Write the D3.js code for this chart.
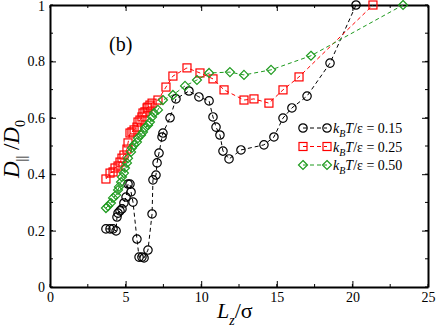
<!DOCTYPE html>
<html>
<head>
<meta charset="utf-8">
<script src="https://cdn.jsdelivr.net/npm/d3@7"></script>
<style>
  body { margin: 0; background: #fff; }
  svg text { font-family: "Liberation Serif", "DejaVu Serif", serif; }
</style>
</head>
<body>
<div id="chart"></div>
<script>
// D_par / D_0 versus L_z / sigma for three temperatures
const xTicks = [0, 5, 10, 15, 20, 25];
const yTicks = [0, 0.2, 0.4, 0.6, 0.8, 1];

const lzT015 = [3.70, 3.97, 4.17, 4.37, 4.43, 4.50, 4.63, 4.76, 4.89, 5.03, 5.16, 5.29, 5.36, 5.49, 5.75, 5.89, 6.08, 6.22, 6.48, 6.75, 6.81, 7.01, 7.08, 7.21, 7.41, 7.47, 7.94, 8.33, 9.19, 9.85, 10.52, 10.78, 10.98, 11.24, 11.44, 11.84, 12.63, 14.15, 14.81, 15.41, 16.0, 17.0, 18.52, 20.24];
const dT015 = [0.206, 0.206, 0.206, 0.199, 0.248, 0.262, 0.270, 0.277, 0.298, 0.319, 0.365, 0.365, 0.337, 0.301, 0.170, 0.106, 0.106, 0.103, 0.131, 0.259, 0.380, 0.397, 0.440, 0.475, 0.532, 0.546, 0.600, 0.667, 0.695, 0.674, 0.660, 0.603, 0.567, 0.539, 0.482, 0.454, 0.486, 0.504, 0.532, 0.599, 0.635, 0.677, 0.794, 1.0];

const lzT025 = [3.70, 3.97, 4.17, 4.30, 4.50, 4.63, 4.76, 4.89, 5.09, 5.16, 5.29, 5.42, 5.56, 5.75, 5.82, 5.95, 6.08, 6.15, 6.28, 6.42, 6.48, 6.61, 6.75, 7.14, 7.67, 8.13, 9.06, 9.92, 10.78, 11.51, 12.83, 13.49, 14.48, 15.41, 16.47, 21.36];
const dT025 = [0.383, 0.404, 0.408, 0.422, 0.429, 0.443, 0.457, 0.468, 0.489, 0.511, 0.546, 0.550, 0.557, 0.567, 0.585, 0.592, 0.603, 0.617, 0.621, 0.635, 0.638, 0.645, 0.652, 0.663, 0.709, 0.748, 0.777, 0.759, 0.738, 0.699, 0.663, 0.667, 0.652, 0.699, 0.745, 1.0];

const lzT050 = [3.70, 3.84, 4.03, 4.17, 4.37, 4.50, 4.56, 4.70, 4.76, 4.89, 4.96, 5.09, 5.16, 5.36, 5.42, 5.56, 5.75, 5.82, 6.02, 6.15, 6.28, 6.48, 6.61, 6.75, 6.88, 7.14, 7.47, 8.13, 8.93, 9.72, 10.52, 11.90, 12.83, 14.62, 17.26, 23.35];
const dT050 = [0.280, 0.287, 0.298, 0.316, 0.326, 0.344, 0.355, 0.372, 0.390, 0.404, 0.422, 0.440, 0.457, 0.479, 0.493, 0.504, 0.514, 0.528, 0.539, 0.550, 0.564, 0.574, 0.585, 0.603, 0.617, 0.628, 0.663, 0.681, 0.713, 0.734, 0.759, 0.762, 0.752, 0.770, 0.820, 1.0];

const seriesNames = ["0.15", "0.25", "0.50"];

const series = [
  {name: seriesNames[0], xs: lzT015, ys: dT015, color: "#000000", shape: "circle"},
  {name: seriesNames[1], xs: lzT025, ys: dT025, color: "#ff0000", shape: "square"},
  {name: seriesNames[2], xs: lzT050, ys: dT050, color: "#1e9a1e", shape: "diamond"}
];

const width = 436, height = 331;
const margin = {left: 50, right: 8, top: 5, bottom: 44};

const svg = d3.select("#chart")
  .append("svg")
  .attr("width", width)
  .attr("height", height);

const x = d3.scaleLinear().domain([0, 25]).range([margin.left, width - margin.right]);
const y = d3.scaleLinear().domain([0, 1]).range([height - margin.bottom, margin.top]);

// axes with inward ticks
const xMinor = d3.range(0, 25.01, 2.5);
const yMinor = d3.range(0, 1.001, 0.1);
const serif = "'Liberation Serif', 'DejaVu Serif', serif";

const bottomAxis = svg.append("g")
  .attr("transform", `translate(0,${y(0)})`)
  .call(d3.axisBottom(x).tickValues(xTicks).tickSizeInner(-6).tickSizeOuter(0).tickPadding(5).tickFormat(d3.format("d")));
bottomAxis.selectAll(".minor").data(xMinor).enter().append("line")
  .attr("x1", d => x(d)).attr("x2", d => x(d)).attr("y1", 0).attr("y2", -3)
  .attr("stroke", "#000");

const topAxis = svg.append("g")
  .attr("transform", `translate(0,${y(1)})`)
  .call(d3.axisTop(x).tickValues(xTicks).tickSizeInner(-6).tickSizeOuter(0).tickFormat(""));
topAxis.selectAll(".minor").data(xMinor).enter().append("line")
  .attr("x1", d => x(d)).attr("x2", d => x(d)).attr("y1", 0).attr("y2", 3)
  .attr("stroke", "#000");

const leftAxis = svg.append("g")
  .attr("transform", `translate(${x(0)},0)`)
  .call(d3.axisLeft(y).tickValues(yTicks).tickSizeInner(-6).tickSizeOuter(0).tickPadding(5).tickFormat(d => d === 0 ? "0" : d === 1 ? "1" : d3.format(".1f")(d)));
leftAxis.selectAll(".minor").data(yMinor).enter().append("line")
  .attr("y1", d => y(d)).attr("y2", d => y(d)).attr("x1", 0).attr("x2", 3)
  .attr("stroke", "#000");
// keep the top "1" inside the window
leftAxis.selectAll(".tick text").filter(d => d === 1).attr("dy", "0.42em");

const rightAxis = svg.append("g")
  .attr("transform", `translate(${x(25)},0)`)
  .call(d3.axisRight(y).tickValues(yTicks).tickSizeInner(-6).tickSizeOuter(0).tickFormat(""));
rightAxis.selectAll(".minor").data(yMinor).enter().append("line")
  .attr("y1", d => y(d)).attr("y2", d => y(d)).attr("x1", 0).attr("x2", -3)
  .attr("stroke", "#000");

[bottomAxis, topAxis, leftAxis, rightAxis].forEach(a => a.attr("font-family", serif).attr("font-size", 14));
svg.selectAll(".domain").attr("stroke", "#000").attr("stroke-width", 2);
svg.selectAll(".tick line").attr("stroke", "#000").attr("stroke-width", 1);
svg.selectAll(".tick text").attr("fill", "#000");

// markers
function drawMarker(g, shape, color) {
  if (shape === "circle") {
    g.append("circle").attr("r", 4.2).attr("fill", "none").attr("stroke", color).attr("stroke-width", 1.2);
  } else if (shape === "square") {
    g.append("rect").attr("x", -4).attr("y", -4).attr("width", 8).attr("height", 8)
      .attr("fill", "none").attr("stroke", color).attr("stroke-width", 1.2);
  } else {
    g.append("path").attr("d", "M0,-4.5L4.5,0L0,4.5L-4.5,0Z")
      .attr("fill", "none").attr("stroke", color).attr("stroke-width", 1.2);
  }
}

const line = d3.line().x(d => x(d[0])).y(d => y(d[1]));

series.forEach(s => {
  const pts = s.xs.map((v, i) => [v, s.ys[i]]);
  svg.append("path")
    .datum(pts)
    .attr("d", line)
    .attr("fill", "none")
    .attr("stroke", s.color)
    .attr("stroke-width", 1)
    .attr("stroke-dasharray", "4,3");
  svg.append("g").selectAll("g")
    .data(pts)
    .enter()
    .append("g")
    .attr("transform", d => `translate(${x(d[0])},${y(d[1])})`)
    .each(function() { drawMarker(d3.select(this), s.shape, s.color); });
});

// legend
const legend = svg.append("g").attr("transform", "translate(303,128)");
series.forEach((s, i) => {
  const row = legend.append("g").attr("transform", `translate(0,${i * 18.5})`);
  row.append("line").attr("x1", 0).attr("x2", 24).attr("y1", 0).attr("y2", 0)
    .attr("stroke", s.color).attr("stroke-width", 1).attr("stroke-dasharray", "4,3");
  drawMarker(row.append("g"), s.shape, s.color);
  drawMarker(row.append("g").attr("transform", "translate(24,0)"), s.shape, s.color);
  const t = row.append("text").attr("x", 30).attr("y", 5).style("font-size", "14px").attr("fill", "#000");
  t.append("tspan").style("font-style", "italic").text("k");
  t.append("tspan").attr("dy", 4).style("font-size", "10px").style("font-style", "italic").text("B");
  t.append("tspan").attr("dy", -4).style("font-style", "italic").text("T");
  t.append("tspan").text("/ε = " + s.name);
});

// panel label
svg.append("text").attr("x", 109).attr("y", 51)
  .style("font-size", "20px").attr("fill", "#000").text("(b)");

// x label
const xl = svg.append("text").attr("x", 217).attr("y", 318).style("font-size", "22px").attr("fill", "#000");
xl.append("tspan").style("font-style", "italic").text("L");
xl.append("tspan").attr("dy", 7).style("font-size", "14px").style("font-style", "italic").text("z");
xl.append("tspan").attr("dy", -7).text("/σ");

// y label
const yl = svg.append("text").attr("transform", "translate(19,178) rotate(-90)")
  .style("font-size", "23px").attr("fill", "#000");
yl.append("tspan").style("font-style", "italic").text("D");
yl.append("tspan").attr("dy", 7).style("font-size", "14px").text("||");
yl.append("tspan").attr("dy", -7).text(" /");
yl.append("tspan").style("font-style", "italic").text("D");
yl.append("tspan").attr("dy", 6).style("font-size", "14px").text("0");
</script>
</body>
</html>
